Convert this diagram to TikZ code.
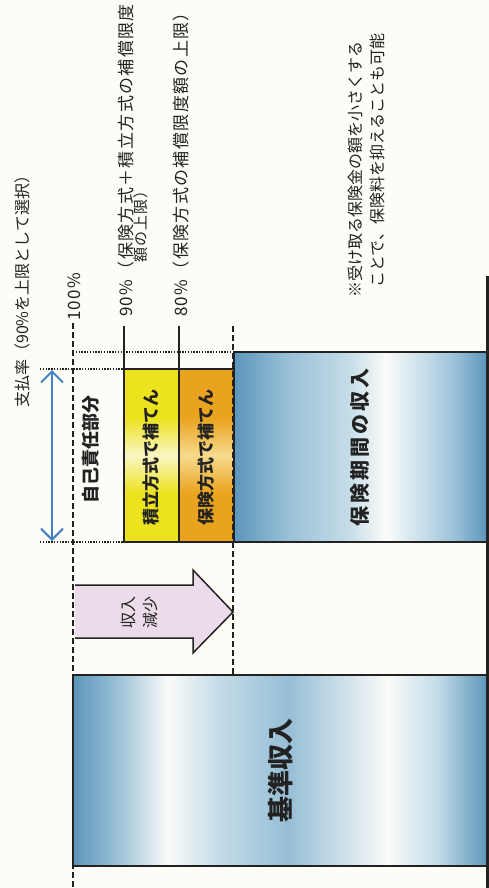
\documentclass[tikz,border=0pt]{standalone}
\usepackage{fontspec}
\newfontfamily\jp{Noto Sans CJK JP}
\newfontfamily\jpw[LetterSpace=15]{Noto Sans CJK JP}
\newfontfamily\jpl[LetterSpace=8]{Noto Sans CJK JP}
\usetikzlibrary{arrows.meta}
\definecolor{bgc}{RGB}{253,252,246}
\definecolor{ink}{RGB}{34,34,34}
\definecolor{bdk}{RGB}{92,150,187}
\definecolor{bmd}{RGB}{150,190,214}
\definecolor{blt}{RGB}{196,220,232}
\definecolor{bwh}{RGB}{250,251,248}
\definecolor{yel}{RGB}{236,226,30}
\definecolor{yell}{RGB}{250,246,196}
\definecolor{ora}{RGB}{233,163,30}
\definecolor{oral}{RGB}{247,218,140}
\definecolor{pinkc}{RGB}{236,220,233}
\definecolor{arrblue}{RGB}{66,129,198}
\pgfdeclarehorizontalshading{kijunshade}{100bp}{color(0bp)=(bdk); color(25bp)=(bdk); color(30bp)=(bmd); color(36.5bp)=(bwh); color(42.5bp)=(blt); color(51bp)=(bmd); color(63bp)=(bwh); color(69bp)=(blt); color(75bp)=(bdk); color(100bp)=(bdk)}
\pgfdeclarehorizontalshading{hokenshade}{100bp}{color(0bp)=(bdk); color(25bp)=(bdk); color(35bp)=(bmd); color(47.5bp)=(blt); color(55bp)=(bwh); color(63bp)=(blt); color(69bp)=(bmd); color(75bp)=(bdk); color(100bp)=(bdk)}
\pgfdeclareverticalshading{yelshade}{100bp}{color(0bp)=(yel); color(25bp)=(yel); color(39bp)=(yel); color(50bp)=(yell); color(61bp)=(yel); color(75bp)=(yel); color(100bp)=(yel)}
\pgfdeclareverticalshading{orashade}{100bp}{color(0bp)=(ora); color(25bp)=(ora); color(39bp)=(ora); color(50bp)=(oral); color(61bp)=(ora); color(75bp)=(ora); color(100bp)=(ora)}
\begin{document}
\begin{tikzpicture}[x=1pt,y=-1pt,
  boxline/.style={draw=ink,line width=1.5pt},
  dashln/.style={draw=ink,line width=1.7pt,dash pattern=on 6pt off 3pt},
  dotln/.style={draw=ink,line width=1.4pt,dash pattern=on 1.4pt off 1.4pt},
  tickln/.style={draw=ink,line width=1.8pt},
  axisln/.style={draw=ink,line width=3pt},
  lab/.style={font=\jpl\fontsize{17}{20}\selectfont,text=ink,rotate=90,anchor=west,inner sep=0pt},
  boxtxt/.style={font=\jp\bfseries\fontsize{17}{20}\selectfont,text=ink,rotate=90,inner sep=0pt},
  ]
\useasboundingbox (0,0) rectangle (489,888);
\fill[bgc] (0,0) rectangle (489,888);

% base income bar
\shade[shading=kijunshade] (73,675) rectangle (487,866);
\draw[boxline] (73,675) rectangle (487,866);
\node[boxtxt,font=\jp\bfseries\fontsize{26}{28}\selectfont] (kijun) at (281,770) {基準収入};

% insured-period income bar
\shade[shading=hokenshade] (234,352) rectangle (487,542);
\draw[boxline] (234,352) rectangle (487,542);
\node[boxtxt,font=\jpw\bfseries\fontsize{20}{24}\selectfont] (hoken) at (360,447) {保険期間の収入};

% yellow and orange boxes
\shade[shading=yelshade] (124,369) rectangle (179,542);
\draw[boxline] (124,369) rectangle (179,542);
\shade[shading=orashade] (179,369) rectangle (234,542);
\draw[boxline] (179,369) rectangle (234,542);
\node[boxtxt] (tsumi) at (151,457) {積立方式で補てん};
\node[boxtxt] (hoho) at (206,457) {保険方式で補てん};
\node[boxtxt,font=\jp\bfseries\fontsize{18}{20}\selectfont] (jiko) at (91,449) {自己責任部分};

% axis and reference lines
\coordinate (ax1) at (487,276);
\coordinate (ax2) at (487,888);
\draw[axisln] (ax1) -- (ax2);
\coordinate (d1a) at (73,323);
\coordinate (d1b) at (73,888);
\draw[dashln] (d1a) -- (d1b);
\coordinate (d2a) at (233,326);
\coordinate (d2b) at (233,675);
\draw[dashln] (d2a) -- (d2b);
\coordinate (t9a) at (124,326);
\coordinate (t9b) at (124,369);
\draw[tickln] (t9a) -- (t9b);
\coordinate (t8a) at (179,326);
\coordinate (t8b) at (179,369);
\draw[tickln] (t8a) -- (t8b);
\draw[dotln] (73,352) -- (234,352);
\draw[dotln] (40,369) -- (124,369);
\draw[dotln] (40,542) -- (124,542);

% payout-rate double arrow
\coordinate (ba) at (52,370);
\coordinate (bb) at (52,541);
\draw[draw=arrblue,line width=2pt,{Straight Barb[length=11pt,width=22pt,line width=2pt]}-{Straight Barb[length=11pt,width=22pt,line width=2pt]}] (ba) -- (bb);

% income decrease arrow
\fill[pinkc] (75,585) -- (193,585) -- (193,570) -- (233,612) -- (193,653) -- (193,638) -- (75,638) -- cycle;
\draw[draw=ink,line width=1.5pt,line join=miter] (75,585) -- (193,585) -- (193,570) -- (233,612) -- (193,653) -- (193,638) -- (75,638);
\node[font=\jp\fontsize{16}{22}\selectfont,text=ink,rotate=90,align=center,inner sep=0pt] (gen) at (139,612) {収入\\減少};

% labels
\node[lab,font=\jp\fontsize{16}{18}\selectfont] (rate) at (22,408) {支払率（90\%を上限として選択）};
\node[lab] (p100) at (74,321) {100\%};
\node[lab] (p90) at (126,317) {90\%（保険方式＋積立方式の補償限度};
\node[lab,font=\jpl\fontsize{15}{18}\selectfont] (p90b) at (141,263) {額の上限）};
\node[lab] (p80) at (181,317) {80\%（保険方式の補償限度額の上限）};
\node[lab,font=\jp\fontsize{16}{20}\selectfont] (note1) at (355,298) {※受け取る保険金の額を小さくする};
\node[lab,font=\jp\fontsize{16}{20}\selectfont] (note2) at (377,288) {ことで、保険料を抑えることも可能};
\end{tikzpicture}
\end{document}
